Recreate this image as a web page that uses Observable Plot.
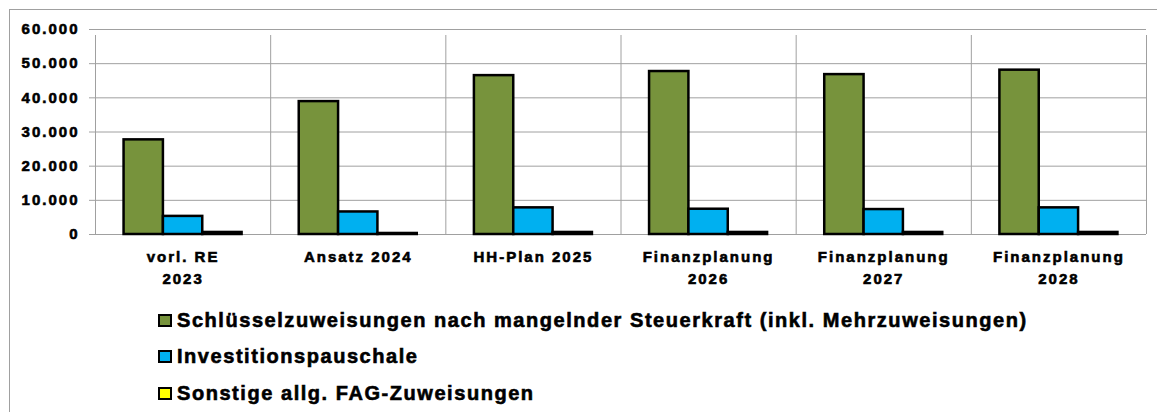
<!DOCTYPE html>
<html><head><meta charset="utf-8">
<script src="https://cdn.jsdelivr.net/npm/d3@7"></script>
<script src="https://cdn.jsdelivr.net/npm/@observablehq/plot@0.6"></script>
<style>
body{margin:0;background:#fff;font-family:"Liberation Sans",Arial,sans-serif;}
#wrap{position:relative;width:1157px;height:412px;overflow:hidden;}
#border{position:absolute;left:9px;top:9px;right:-5px;bottom:-5px;border-top:1px solid #a0a0a0;border-left:1px solid #a0a0a0;}
#chart{position:absolute;left:0;top:0;}
#chart svg text{letter-spacing:2px;stroke:#000;stroke-width:0.6px;}
#legend{position:absolute;left:158px;top:302px;}
.item{display:flex;align-items:center;height:36.5px;font-weight:bold;font-size:20px;letter-spacing:1.55px;color:#000;-webkit-text-stroke:0.6px #000;}
.sw{width:10px;height:9px;border:2px solid #000;margin-right:5px;-webkit-text-stroke:0;}
</style>
</head><body>
<div id="wrap"><div id="border"></div><div id="chart"></div><div id="legend"></div></div>
<script>
const categories = ["vorl. RE\n2023", "Ansatz 2024", "HH-Plan 2025", "Finanzplanung\n2026", "Finanzplanung\n2027", "Finanzplanung\n2028"];
const seriesNames = ["Schlüsselzuweisungen nach mangelnder Steuerkraft (inkl. Mehrzuweisungen)", "Investitionspauschale", "Sonstige allg. FAG-Zuweisungen"];
const schluessel = [27700, 38900, 46500, 47700, 46800, 48100];
const investition = [5300, 6600, 7800, 7400, 7300, 7800];
const sonstige = [600, 300, 600, 600, 600, 600];
const seriesColors = ["#77933C", "#00B0F0", "#FFFF00"];
const yTicks = [0, 10000, 20000, 30000, 40000, 50000, 60000];

const values = [schluessel, investition, sonstige];
const rows = [];
values.forEach((arr, j) => arr.forEach((v, i) => rows.push({i, j, v, s: seriesNames[j]})));
const fmt = d3.formatLocale({decimal: ",", thousands: ".", grouping: [3], currency: ["", "€"]}).format(",");
const w = 0.2246;

const chart = Plot.plot({
  width: 1157, height: 300,
  marginLeft: 95, marginRight: 11, marginTop: 29, marginBottom: 66,
  x: {domain: [0, 6]},
  y: {domain: [0, 60000]},
  color: {domain: seriesNames, range: seriesColors},
  style: {fontFamily: "Liberation Sans, Arial, sans-serif", fontSize: "15px", fontWeight: "bold", color: "#000", background: "transparent", overflow: "visible"},
  marks: [
    Plot.ruleY(yTicks, {stroke: "#a0a0a0", strokeWidth: 1}),
    Plot.ruleX(d3.range(categories.length + 1), {y1: 0, y2: 60000, insetBottom: -6, stroke: "#a0a0a0", strokeWidth: 1}),
    Plot.rectY(rows, {
      x1: d => d.i + 0.5 + (d.j - 1.5) * w,
      x2: d => d.i + 0.5 + (d.j - 0.5) * w,
      y1: 0, y2: "v", fill: "s", stroke: "#000", strokeWidth: 2.5
    }),
    Plot.axisY({ticks: yTicks, tickFormat: fmt, tickSize: 6, tickPadding: 10, stroke: "#a0a0a0", fill: "#000", label: null, fontWeight: "bold", fontSize: 15}),
    Plot.axisX({ticks: d3.range(categories.length).map(i => i + 0.5), tickFormat: d => categories[Math.floor(d)], tickSize: 0, tickPadding: 12, lineHeight: 1.45, label: null, fill: "#000", fontWeight: "bold", fontSize: 15})
  ]
});
document.getElementById("chart").appendChild(chart);

const legend = document.getElementById("legend");
seriesNames.forEach((name, j) => {
  const it = document.createElement("div");
  it.className = "item";
  const sw = document.createElement("span");
  sw.className = "sw";
  sw.style.background = seriesColors[j];
  const t = document.createElement("span");
  t.textContent = name;
  it.appendChild(sw); it.appendChild(t);
  legend.appendChild(it);
});
</script>
</body></html>
